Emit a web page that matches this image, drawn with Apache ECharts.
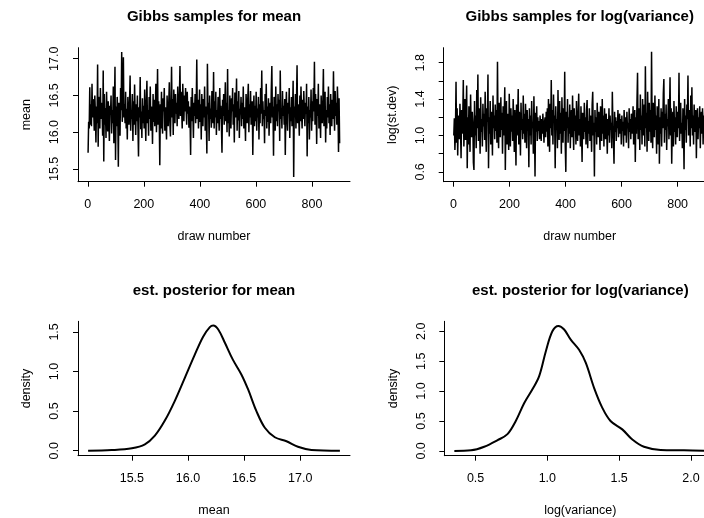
<!DOCTYPE html>
<html>
<head>
<meta charset="utf-8">
<script src="https://cdn.jsdelivr.net/npm/echarts@6/dist/echarts.min.js"></script>
<style>html,body{margin:0;padding:0;background:#fff}#c{width:704px;height:518px}</style>
</head>
<body>
<div id="c"></div>
<script>
// ---- data ----
const drawStep = 2; // every other draw recorded, starting at draw 1
const meanTrace = [
15.72,16.14,16.05,16.61,16.10,16.38,16.08,16.66,16.20,16.45,16.31,16.02,16.50,16.27,15.86,16.35,16.12,16.92,15.80,16.48,16.22,16.05,16.60,16.18,16.40,
16.28,15.95,16.84,15.60,16.52,16.10,16.33,15.92,16.55,16.20,16.01,16.42,16.15,15.88,16.36,16.24,16.50,15.98,16.30,16.12,16.62,15.85,16.28,16.89,15.62,
16.35,16.08,16.48,16.22,15.53,16.40,16.18,15.95,16.60,16.30,17.09,16.14,16.45,17.02,16.20,16.38,16.12,16.55,16.05,16.32,15.90,16.48,16.25,16.10,16.40,
16.77,16.02,16.30,16.18,16.52,15.88,16.42,16.10,16.65,16.26,15.96,16.38,16.15,16.50,16.08,15.67,16.34,16.20,16.75,16.04,16.28,15.92,16.46,16.12,16.36,
16.05,16.58,16.22,15.88,16.40,16.70,16.12,16.30,15.95,16.48,16.18,16.62,16.02,16.35,16.25,15.84,16.52,16.14,16.44,16.08,16.32,16.66,16.00,16.28,16.86,
16.10,16.42,16.20,15.55,16.38,16.05,16.55,16.15,15.98,16.46,16.28,16.60,16.02,16.34,16.18,15.90,16.50,16.24,16.08,16.40,16.68,16.12,15.94,16.36,16.89,
16.20,16.45,15.96,16.58,16.30,16.12,16.52,16.25,16.40,16.08,16.62,16.35,16.18,16.48,16.90,16.22,16.55,16.30,16.05,16.66,16.38,16.15,16.50,16.28,16.60,
16.32,16.10,16.55,16.25,16.42,16.06,16.35,16.20,15.69,16.48,16.15,16.60,16.28,15.92,16.40,16.22,16.52,16.12,16.35,16.99,16.18,16.44,16.05,16.30,16.58,
16.14,16.38,15.90,16.52,16.26,16.08,16.45,16.20,16.62,16.02,16.35,16.15,15.71,16.93,16.24,16.40,15.88,16.50,16.18,16.32,16.06,16.56,16.28,16.12,16.82,
16.05,16.42,16.20,16.55,15.96,16.30,16.12,16.48,16.25,16.02,16.60,16.18,16.36,16.08,15.72,16.44,16.22,16.52,16.10,16.34,16.68,16.15,16.40,16.00,16.86,
16.12,16.30,15.94,16.50,16.22,16.05,16.46,16.28,16.60,16.10,16.38,15.86,16.54,16.20,16.35,16.73,16.02,16.42,16.16,16.56,15.92,16.32,16.24,16.48,16.08,
16.40,16.18,16.62,16.05,16.34,16.22,15.88,16.52,16.28,16.12,16.45,16.66,16.00,16.38,16.20,16.56,16.10,16.30,16.42,15.69,16.25,16.50,16.08,16.36,16.15,
16.55,16.02,16.32,16.20,16.48,15.90,16.38,16.12,16.60,16.25,16.84,16.08,16.42,16.18,16.30,15.85,16.52,16.22,16.66,16.05,16.35,16.14,16.46,15.95,16.28,
16.40,16.12,16.58,16.90,16.20,16.35,15.68,16.48,16.25,16.02,16.62,16.15,16.38,16.08,16.52,16.28,16.44,15.88,16.84,16.18,16.32,16.05,16.56,16.22,16.36,
16.10,16.45,15.69,16.30,16.55,16.18,16.02,16.40,16.25,16.60,15.92,16.34,16.15,16.48,16.08,16.28,16.70,15.39,16.35,16.20,16.52,16.05,16.42,16.91,16.12,
16.38,16.22,15.95,16.50,16.15,16.62,16.28,16.05,16.44,16.18,16.56,16.32,16.08,16.40,16.25,16.66,15.67,16.35,16.12,16.48,15.90,16.30,16.20,16.58,16.02,
16.42,16.15,16.60,16.28,16.96,16.10,16.52,16.35,15.84,16.45,16.22,16.66,16.05,16.38,16.18,15.92,16.50,16.25,16.12,16.40,16.86,16.08,16.32,16.55,15.86,
16.30,16.05,16.48,16.20,16.62,16.12,16.38,15.96,16.52,16.25,16.08,16.44,16.18,16.83,16.28,16.02,16.56,16.22,16.40,16.10,16.62,16.35,15.73,16.46,15.85
];
const logSdTrace = [
1.00,1.19,0.84,1.05,1.59,0.92,1.30,0.78,1.15,1.22,0.96,1.35,1.08,0.75,1.28,1.02,1.18,1.61,0.88,1.12,1.40,0.95,1.25,1.55,0.64,
1.20,0.90,1.32,1.05,0.82,1.45,1.10,0.98,1.26,1.15,0.70,0.62,1.38,1.00,1.22,0.86,1.50,1.08,1.67,0.94,1.30,1.12,0.80,1.42,1.04,
1.18,0.88,1.35,1.10,1.24,0.95,1.48,1.06,0.82,1.30,1.15,1.67,0.64,1.20,1.02,1.38,0.90,1.26,1.12,0.78,1.44,1.08,1.22,0.96,1.34,
1.05,1.28,0.92,1.81,1.10,0.86,1.36,1.18,0.98,1.42,1.06,1.25,0.80,1.32,1.00,1.20,1.53,0.62,1.14,1.38,0.90,1.24,1.08,0.84,1.46,
1.12,0.88,1.30,1.04,1.22,0.94,1.40,1.16,0.82,1.28,1.08,0.67,1.34,1.00,1.20,1.51,0.90,1.26,1.10,0.78,1.36,1.06,1.18,0.96,1.44,
1.02,1.24,0.92,1.35,1.12,0.86,1.28,1.05,1.18,0.65,1.30,1.00,1.22,0.90,1.38,1.08,1.15,0.80,1.43,1.10,0.55,1.25,1.04,1.32,0.94,
1.20,1.05,1.16,0.96,1.22,1.10,0.94,1.18,1.02,1.24,1.08,0.92,1.15,1.20,0.98,1.26,1.04,1.30,0.88,1.40,1.12,0.82,1.35,1.08,1.61,
1.00,1.28,0.90,1.45,1.14,1.22,0.64,1.32,1.06,1.18,0.86,1.50,1.10,0.95,1.38,1.02,1.25,0.80,1.42,1.12,0.92,1.30,1.05,1.70,0.88,
0.60,1.26,1.08,1.40,0.92,1.20,1.02,1.34,0.86,1.15,1.28,0.98,1.44,1.10,0.84,1.30,1.05,1.22,0.90,1.38,1.12,0.94,1.24,1.46,1.00,
1.18,0.88,1.32,1.06,0.71,1.25,1.12,0.96,1.36,1.04,1.20,0.90,1.28,1.39,0.86,1.16,1.02,1.30,0.94,1.22,1.08,0.82,1.34,1.48,1.00,
1.14,0.55,1.28,1.04,1.20,0.90,1.36,1.10,0.98,1.26,1.06,0.84,1.32,1.16,0.94,1.40,1.02,1.22,0.88,1.30,1.12,0.96,1.24,1.08,0.80,
1.18,1.00,1.30,0.92,1.22,1.06,1.14,0.86,1.48,1.10,0.96,0.69,1.26,1.04,1.20,0.94,1.16,1.08,1.28,0.98,1.12,1.24,1.02,1.18,0.90,
1.22,1.05,1.15,0.88,1.28,1.10,1.00,1.20,0.92,1.26,1.08,1.14,0.86,1.30,1.04,1.18,0.96,1.24,1.10,1.02,1.32,0.90,1.16,1.28,0.71,
1.20,1.02,1.38,1.69,0.96,1.12,1.30,0.84,1.45,1.06,1.22,0.90,1.40,1.10,1.00,1.34,0.88,1.76,1.08,1.25,0.82,1.48,1.14,0.94,1.36,
1.04,1.28,0.92,1.92,1.10,0.86,1.36,1.18,0.98,1.44,1.06,1.22,0.80,1.32,1.12,0.90,1.40,0.69,1.20,1.02,1.30,0.88,1.26,1.08,1.46,
1.62,0.92,1.24,1.06,1.34,0.84,1.18,1.10,1.40,0.96,1.22,1.64,1.00,1.30,0.69,1.14,1.26,0.88,1.38,1.04,1.20,0.90,1.32,1.12,0.98,
1.26,1.08,1.69,0.94,1.20,1.36,1.02,1.14,0.86,1.30,1.10,0.63,1.40,1.06,1.22,0.92,1.34,1.18,1.66,1.00,1.12,1.28,0.88,1.44,1.08,
1.53,1.00,1.22,0.90,1.34,1.12,1.04,1.28,0.75,1.18,1.30,0.96,1.20,1.08,1.32,0.86,1.16,1.26,1.02,1.30,0.90,1.22,1.10,1.28,0.84
];
const meanDensX = [15.11,15.32,15.50,15.616,15.705,15.794,15.883,15.972,16.06,16.135,16.195,16.225,16.27,16.33,16.40,16.477,16.537,16.61,16.685,16.774,16.878,16.98,17.10,17.354];
const meanDensY = [0,0.008,0.03,0.08,0.19,0.38,0.63,0.92,1.21,1.44,1.56,1.58,1.53,1.36,1.15,0.96,0.77,0.50,0.29,0.17,0.12,0.05,0.01,0];
const lvDensX = [0.352,0.468,0.56,0.653,0.722,0.78,0.839,0.896,0.943,0.99,1.035,1.077,1.117,1.163,1.221,1.268,1.326,1.383,1.44,1.522,1.592,1.673,1.789,1.951,2.107];
const lvDensY = [0,0.01,0.07,0.18,0.28,0.50,0.80,1.03,1.25,1.67,2.0,2.09,2.03,1.86,1.69,1.47,1.05,0.72,0.50,0.36,0.19,0.07,0.017,0.01,0];

const drawTicks = [0, 200, 400, 600, 800];
const meanTraceTicks = [15.5, 16.0, 16.5, 17.0];
const logSdTicks = [0.6, 0.8, 1.0, 1.2, 1.4, 1.6, 1.8];
const logSdLabels = [0.6, 1.0, 1.4, 1.8];
const meanDensXTicks = [15.5, 16.0, 16.5, 17.0];
const meanDensYTicks = [0.0, 0.5, 1.0, 1.5];
const lvDensXTicks = [0.5, 1.0, 1.5, 2.0];
const lvDensYTicks = [0.0, 0.5, 1.0, 1.5, 2.0];

const titles = ['Gibbs samples for mean', 'Gibbs samples for log(variance)', 'est. posterior for mean', 'est. posterior for log(variance)'];

// ---- chart ----
const FONT = '"Liberation Sans", Arial, Helvetica, sans-serif';
const FS = 12.5;
const grids = [
  {left: 78, top: 47.7, width: 272, height: 134},
  {left: 443.7, top: 47.7, width: 272, height: 134},
  {left: 78, top: 321.3, width: 272, height: 134.4},
  {left: 444.3, top: 321.3, width: 272, height: 134.4}
].map(g => Object.assign(g, {containLabel: false, outerBoundsMode: 'none'}));
function fmt1(v){ return Number(v).toFixed(1); }
function mkAxis(gi, isX, min, max, ticks, labels, name, nameGap, formatter) {
  return {
    type: 'value', gridIndex: gi, min: min, max: max,
    name: name, nameLocation: 'middle', nameGap: nameGap,
    nameRotate: isX ? 0 : 90,
    nameTextStyle: {fontFamily: FONT, fontSize: FS, color: '#000'},
    splitLine: {show: false},
    axisLine: {show: true, onZero: false, lineStyle: {color: '#000', width: 1}},
    axisTick: {show: true, inside: false, length: 5, customValues: ticks, lineStyle: {color: '#000', width: 1}},
    axisLabel: {show: true, customValues: labels, margin: 16.5, rotate: isX ? 0 : 90,
      fontFamily: FONT, fontSize: FS, color: '#000', formatter: formatter}
  };
}
const chart = echarts.init(document.getElementById('c'), null, {renderer: 'canvas'});
const centers = grids.map(g => g.left + g.width / 2);
chart.setOption({
  animation: false,
  backgroundColor: '#fff',
  title: titles.map((t, i) => ({
    text: t, left: centers[i], top: i < 2 ? 9 : 283.5, textAlign: 'center', padding: 0,
    textStyle: {fontFamily: FONT, fontSize: 15, fontWeight: 'bold', color: '#000'}
  })),
  grid: grids,
  xAxis: [
    mkAxis(0, true, -35, 936, drawTicks, drawTicks, 'draw number', 48.5, v => String(v)),
    mkAxis(1, true, -35, 936, drawTicks, drawTicks, 'draw number', 48.5, v => String(v)),
    mkAxis(2, true, 15.02, 17.444, meanDensXTicks, meanDensXTicks, 'mean', 48.5, fmt1),
    mkAxis(3, true, 0.282, 2.177, lvDensXTicks, lvDensXTicks, 'log(variance)', 48.5, fmt1)
  ],
  yAxis: [
    mkAxis(0, false, 15.325, 17.15, meanTraceTicks, meanTraceTicks, 'mean', 44.5, fmt1),
    mkAxis(1, false, 0.492, 1.965, logSdTicks, logSdLabels, 'log(st.dev)', 44.5, fmt1),
    mkAxis(2, false, -0.063, 1.634, meanDensYTicks, meanDensYTicks, 'density', 44.5, fmt1),
    mkAxis(3, false, -0.08, 2.167, lvDensYTicks, lvDensYTicks, 'density', 44.5, fmt1)
  ],
  series: [
    {type: 'line', xAxisIndex: 0, yAxisIndex: 0, symbol: 'none', silent: true,
     lineStyle: {color: '#000', width: 1.5}, data: meanTrace.map((v, i) => [1 + i * drawStep, v])},
    {type: 'line', xAxisIndex: 1, yAxisIndex: 1, symbol: 'none', silent: true,
     lineStyle: {color: '#000', width: 1.5}, data: logSdTrace.map((v, i) => [1 + i * drawStep, v])},
    {type: 'line', xAxisIndex: 2, yAxisIndex: 2, symbol: 'none', silent: true, smooth: 0.35,
     lineStyle: {color: '#000', width: 2}, data: meanDensX.map((x, i) => [x, meanDensY[i]])},
    {type: 'line', xAxisIndex: 3, yAxisIndex: 3, symbol: 'none', silent: true, smooth: 0.35,
     lineStyle: {color: '#000', width: 2}, data: lvDensX.map((x, i) => [x, lvDensY[i]])}
  ]
});
</script>
</body>
</html>
